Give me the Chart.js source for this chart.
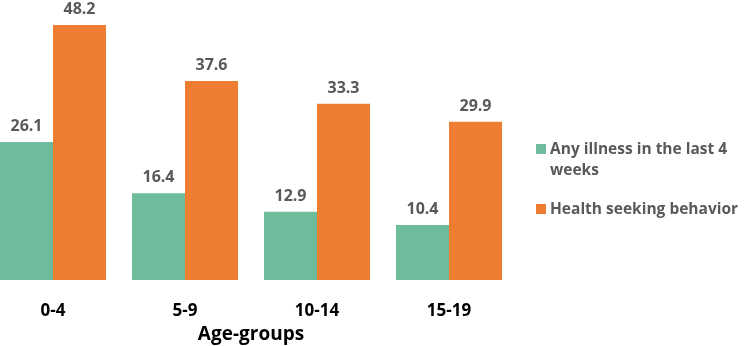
<!DOCTYPE html>
<html lang="en">
<head>
    <meta charset="UTF-8">
    <title>Age-groups</title>
    <script src="https://cdn.jsdelivr.net/npm/chart.js"></script>
    <style>
        body {
            margin: 0;
            font-family: "Open Sans", sans-serif;
            background: #fff;
        }
        .wrap {
            position: relative;
            width: 744px;
            height: 346px;
        }
        .legend {
            position: absolute;
            left: 536px;
            top: 138px;
            width: 198px;
            color: #595959;
            font-weight: bold;
            font-size: 15.5px;
            line-height: 21px;
        }
        .legend .item {
            position: relative;
            padding-left: 14px;
            margin-bottom: 18px;
        }
        .legend .item:last-child {
            white-space: nowrap;
        }
        .legend .box {
            position: absolute;
            left: 0;
            top: 6px;
            width: 10px;
            height: 10px;
        }
    </style>
</head>
<body>
    <div class="wrap">
        <canvas id="ageChart"></canvas>
        <div class="legend" id="legend"></div>
    </div>

    <script>
        const ageGroups = ["0-4", "5-9", "10-14", "15-19"];
        const illness = [26.1, 16.4, 12.9, 10.4];
        const healthSeeking = [48.2, 37.6, 33.3, 29.9];
        const seriesNames = ["Any illness in the last 4 weeks", "Health seeking behavior"];
        const seriesColors = ["#6dbd9c", "#ed7d31"];

        // value labels above each bar
        const valueLabels = {
            id: "valueLabels",
            afterDatasetsDraw(chart) {
                const ctx = chart.ctx;
                ctx.save();
                ctx.font = "bold 16px 'Open Sans'";
                ctx.fillStyle = "#595959";
                ctx.textAlign = "center";
                ctx.textBaseline = "alphabetic";
                chart.data.datasets.forEach((ds, i) => {
                    chart.getDatasetMeta(i).data.forEach((bar, j) => {
                        ctx.fillText(ds.data[j].toFixed(1), bar.x, bar.y - 11);
                    });
                });
                ctx.restore();
            }
        };

        new Chart(document.getElementById("ageChart"), {
            type: "bar",
            data: {
                labels: ageGroups,
                datasets: [
                    { label: seriesNames[0], data: illness, backgroundColor: seriesColors[0], clip: false },
                    { label: seriesNames[1], data: healthSeeking, backgroundColor: seriesColors[1], clip: false }
                ]
            },
            options: {
                responsive: true,
                maintainAspectRatio: false,
                animation: false,
                categoryPercentage: 0.803,
                barPercentage: 1,
                layout: { padding: { left: 53, right: 295, top: 25, bottom: 0 } },
                plugins: {
                    legend: { display: false },
                    tooltip: { enabled: false }
                },
                scales: {
                    x: {
                        offset: false,
                        grid: { display: false },
                        border: { display: false },
                        ticks: {
                            color: "#000",
                            padding: 13,
                            font: { family: "Open Sans", size: 17, weight: "bold" }
                        },
                        title: {
                            display: true,
                            text: "Age-groups",
                            color: "#000",
                            padding: { top: 0, bottom: 0 },
                            font: { family: "Open Sans", size: 19, weight: "bold" }
                        },
                        afterFit: scale => { scale.height = 66; }
                    },
                    y: {
                        display: false,
                        min: 0,
                        max: 48.2
                    }
                }
            },
            plugins: [valueLabels]
        });

        // legend on the right
        const legend = document.getElementById("legend");
        seriesNames.forEach((name, i) => {
            const item = document.createElement("div");
            item.className = "item";
            item.innerHTML = `<span class="box" style="background:${seriesColors[i]}"></span>${name}`;
            legend.appendChild(item);
        });
    </script>
</body>
</html>
